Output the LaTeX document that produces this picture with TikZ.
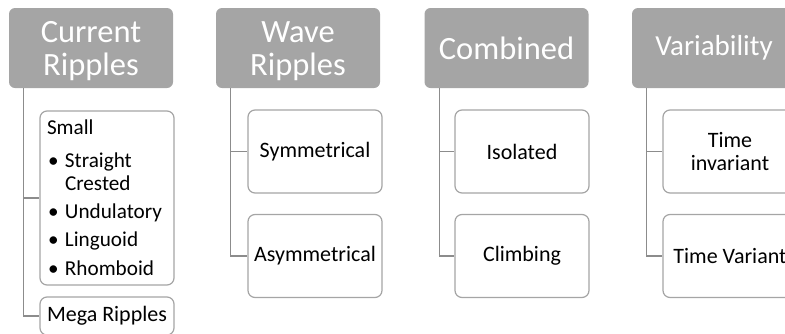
\documentclass[tikz,border=0pt]{standalone}
\usepackage{fontspec}
\setmainfont{Carlito}
\usepackage{tikz}
\usetikzlibrary{positioning}

\definecolor{hdrgray}{RGB}{165,165,165}
\definecolor{boxgray}{RGB}{165,165,165}
\definecolor{linegray}{RGB}{140,140,140}

\begin{document}
\begin{tikzpicture}[x=1pt,y=-1pt]

\tikzstyle{header}=[rectangle,rounded corners=6pt,fill=hdrgray,text=white,
    minimum width=164pt,minimum height=80pt,align=center,inner sep=0pt,
    font=\fontsize{32.5}{33.5}\selectfont]
\tikzstyle{child}=[rectangle,rounded corners=7pt,draw=boxgray,line width=1.2pt,fill=white,
    minimum width=134pt,align=center,inner sep=0pt,
    font=\fontsize{22}{23}\selectfont]
\tikzstyle{branch}=[draw=linegray,line width=1.2pt]

\useasboundingbox (0,0) rectangle (785,333);
\clip (0,0) rectangle (785,333);

% top row
\node[header] (cur) at (91,48) {\rule{0pt}{27pt}Current\\Ripples};
\node[header] (wave) at (298,48) {\rule{0pt}{27pt}Wave\\Ripples};
\node[header] (comb) at (506.5,48) {Combined};
\node[header,font=\fontsize{29}{30}\selectfont] (var) at (714,48) {Variability};

% first column
\node[child,minimum height=174pt,text width=120pt,align=left,
    font=\fontsize{21.2}{23}\selectfont] (small) at (107,198) {Small\\[10pt]
\hspace*{1pt}\makebox[17pt][l]{\textbullet}Straight\\
\hspace*{18pt}Crested\\[5pt]
\hspace*{1pt}\makebox[17pt][l]{\textbullet}Undulatory\\[5pt]
\hspace*{1pt}\makebox[17pt][l]{\textbullet}Linguoid\\[6pt]
\hspace*{1pt}\makebox[17pt][l]{\textbullet}Rhomboid};
\node[child,minimum height=38pt] (mega) at (107,316) {Mega Ripples};

% other columns
\node[child,minimum height=83pt] (sym) at (315,151.5) {Symmetrical};
\node[child,minimum height=83pt] (asym) at (315,256) {Asymmetrical};
\node[child,minimum height=83pt] (iso) at (522,151.5) {Isolated};
\node[child,minimum height=83pt] (climb) at (522,256) {Climbing};
\node[child,minimum height=83pt] (tinv) at (730,151.5) {Time\\invariant};
\node[child,minimum height=83pt] (tvar) at (730,256) {Time Variant};

\foreach \h/\c in {cur/small,cur/mega,wave/sym,wave/asym,comb/iso,comb/climb,var/tinv,var/tvar}
    \draw[branch] (\h.south west) ++(15,0) |- (\c.west);

\end{tikzpicture}
\end{document}
